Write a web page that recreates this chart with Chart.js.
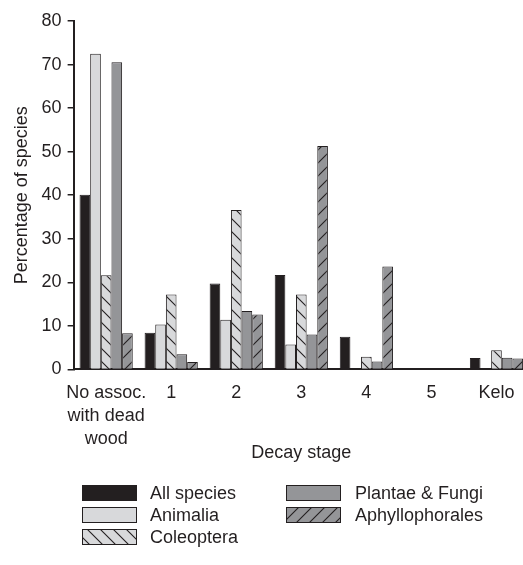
<!DOCTYPE html>
<html><head><meta charset="utf-8">
<script src="https://cdn.jsdelivr.net/npm/chart.js@4/dist/chart.umd.min.js"></script>
<style>html,body{margin:0;padding:0;overflow:hidden;background:#fff}</style>
</head><body>
<canvas id="c" width="529" height="565"></canvas>
<script>
const categories = [["No assoc.", "with dead", "wood"], "1", "2", "3", "4", "5", "Kelo"];
const allSpecies = [40.1, 8.4, 19.7, 21.7, 7.5, 0, 2.6];
const animalia = [72.5, 10.3, 11.4, 5.7, 0, 0, 0];
const coleoptera = [21.6, 17.2, 36.6, 17.2, 2.9, 0, 4.4];
const plantaeFungi = [70.5, 3.5, 13.4, 8.0, 1.8, 0, 2.7];
const aphyllophorales = [8.3, 1.7, 12.6, 51.3, 23.6, 0, 2.5];
const seriesNames = ["All species", "Animalia", "Coleoptera", "Plantae & Fungi", "Aphyllophorales"];
const yMin = 0, yMax = 80, yStep = 10;

const INK = '#231f20';
const BLACK = '#231f20';
const LIGHT = '#d8d9db';
const MID = '#949598';
const FONT = '"Liberation Sans", Arial, sans-serif';

const canvas = document.getElementById('c');
const ctx0 = canvas.getContext('2d');

function hatch(bg, dir) {
  const P = 13;
  const c = document.createElement('canvas'); c.width = P; c.height = P;
  const x = c.getContext('2d');
  x.fillStyle = bg; x.fillRect(0, 0, P, P);
  x.strokeStyle = INK; x.lineWidth = 1.1;
  x.beginPath();
  if (dir === 'back') {
    x.moveTo(-1, -1); x.lineTo(P + 1, P + 1);
    x.moveTo(-2, P - 2); x.lineTo(2, P + 2);
    x.moveTo(P - 2, -2); x.lineTo(P + 2, 2);
  } else {
    x.moveTo(-1, P + 1); x.lineTo(P + 1, -1);
    x.moveTo(-2, 2); x.lineTo(2, -2);
    x.moveTo(P - 2, P + 2); x.lineTo(P + 2, P - 2);
  }
  x.stroke();
  return ctx0.createPattern(c, 'repeat');
}

const fills = [BLACK, LIGHT, hatch(LIGHT, 'back'), MID, hatch(MID, 'fwd')];
const values = [allSpecies, animalia, coleoptera, plantaeFungi, aphyllophorales];

const datasets = seriesNames.map((n, i) => ({
  label: n,
  data: values[i],
  backgroundColor: fills[i],
  borderColor: INK,
  borderWidth: 1,
  borderSkipped: 'bottom',
  categoryPercentage: 0.818,
  barPercentage: 1.0
}));

const legendPlugin = {
  id: 'customLegend',
  afterDraw(chart) {
    const ctx = chart.ctx;
    const items = [
      {i: 0, bx: 82, tx: 150, cy: 493},
      {i: 1, bx: 82, tx: 150, cy: 515},
      {i: 2, bx: 82, tx: 150, cy: 537},
      {i: 3, bx: 286, tx: 355, cy: 493},
      {i: 4, bx: 286, tx: 355, cy: 515}
    ];
    ctx.save();
    ctx.font = '18px ' + FONT;
    ctx.textBaseline = 'middle';
    ctx.textAlign = 'left';
    items.forEach(it => {
      const w = 55, h = 16;
      const y = it.cy - h / 2;
      ctx.fillStyle = fills[it.i];
      ctx.fillRect(it.bx, y, w, h);
      ctx.strokeStyle = INK; ctx.lineWidth = 1;
      ctx.strokeRect(it.bx + 0.5, y + 0.5, w - 1, h - 1);
      ctx.fillStyle = INK;
      ctx.fillText(seriesNames[it.i], it.tx, it.cy + 1);
    });
    ctx.restore();
  }
};

new Chart(canvas, {
  type: 'bar',
  data: { labels: categories, datasets },
  plugins: [legendPlugin],
  options: {
    responsive: false,
    animation: false,
    layout: { padding: { left: 11, top: 21, right: 0, bottom: 101 } },
    plugins: { legend: { display: false }, tooltip: { enabled: false } },
    scales: {
      x: {
        offset: true,
        grid: { display: false, drawTicks: false },
        border: { display: true, color: INK, width: 2 },
        ticks: { color: INK, padding: 12, font: { family: FONT, size: 18, lineHeight: 1.278 }, maxRotation: 0, autoSkip: false },
        title: { display: true, text: 'Decay stage', color: INK, font: { family: FONT, size: 18 }, padding: { top: -20, bottom: 0 } }
      },
      y: {
        min: yMin, max: yMax,
        ticks: { stepSize: yStep, color: INK, padding: 6, font: { family: FONT, size: 18 } },
        grid: { display: true, drawOnChartArea: false, drawTicks: true, tickLength: 6, color: INK, lineWidth: 1.5 },
        border: { display: true, color: INK, width: 2 },
        title: { display: true, text: 'Percentage of species', color: INK, font: { family: FONT, size: 18 }, padding: { top: 0, bottom: 3 } }
      }
    }
  }
});
</script>
</body></html>
